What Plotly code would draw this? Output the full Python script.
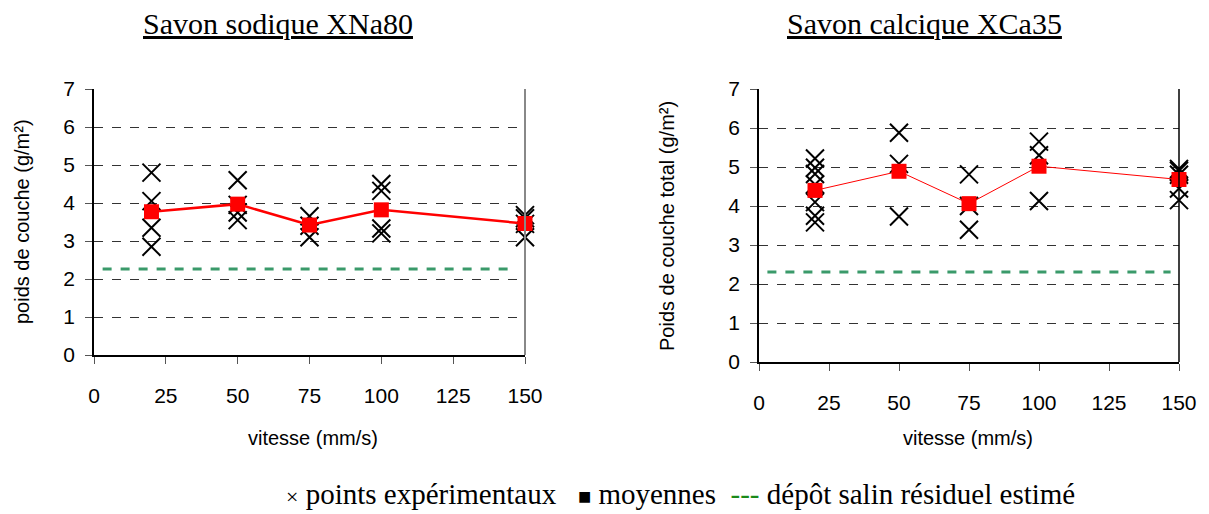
import plotly.graph_objects as go

# speeds (mm/s)
vitesse = [20, 50, 75, 100, 150]

# experimental points, one list per speed
na_points = [[4.8, 4.05, 3.35, 2.85], [4.6, 3.95, 3.75, 3.55], [3.65, 3.4, 3.1],
             [4.5, 4.32, 3.33, 3.2], [3.68, 3.6, 3.45, 3.1]]
ca_points = [[5.22, 4.98, 4.82, 4.55, 4.1, 3.75, 3.58], [5.88, 5.08, 3.73],
             [4.81, 4.0, 3.39], [5.65, 5.3, 4.13], [4.95, 4.9, 4.8, 4.45, 4.15]]

# means
na_moy = [3.77, 3.97, 3.42, 3.82, 3.46]
ca_moy = [4.40, 4.89, 4.06, 5.02, 4.68]

# estimated residual salt deposit
depot_x = [3, 147]
na_depot = [2.26, 2.26]
ca_depot = [2.31, 2.31]

x_ticks = [0, 25, 50, 75, 100, 125, 150]
y_ticks = [0, 1, 2, 3, 4, 5, 6, 7]

# the page body has an 8px margin, so the figure is slightly smaller
OFF = 8
W, H = 1209 - OFF, 514 - OFF
SANS = "Liberation Sans"
SERIF = "Liberation Serif"


def fx(px):
    return (px - OFF) / W


def fy(py):
    return 1 - (py - OFF) / H


def flat(points):
    xs, ys = [], []
    for v, pts in zip(vitesse, points):
        xs += [v] * len(pts)
        ys += pts
    return xs, ys


fig = go.Figure()

for k, (pts, moy, dep, lw) in enumerate([(na_points, na_moy, na_depot, 2.5),
                                          (ca_points, ca_moy, ca_depot, 1)]):
    xa = "x" if k == 0 else "x2"
    ya = "y" if k == 0 else "y2"
    xs, ys = flat(pts)
    fig.add_trace(go.Scatter(x=depot_x, y=dep, mode="lines", xaxis=xa, yaxis=ya,
                             line=dict(color="#3a9a6a", width=3, dash="dash"),
                             showlegend=False))
    fig.add_trace(go.Scatter(x=xs, y=ys, mode="markers", xaxis=xa, yaxis=ya,
                             marker=dict(symbol="x-thin", size=18,
                                         line=dict(color="black", width=2)),
                             cliponaxis=False, showlegend=False))
    fig.add_trace(go.Scatter(x=vitesse, y=moy, mode="lines+markers", xaxis=xa, yaxis=ya,
                             line=dict(color="red", width=lw),
                             marker=dict(symbol="square", size=15, color="red"),
                             cliponaxis=False, showlegend=False))

xcommon = dict(range=[0, 150], tickvals=x_ticks, ticks="outside", ticklen=7,
               tickcolor="#555", ticklabelstandoff=14,
               showline=True, linecolor="black", linewidth=1.5, showgrid=False,
               zeroline=False, automargin=False,
               tickfont=dict(family=SANS, size=21, color="black"))
ycommon = dict(range=[0, 7], tickvals=y_ticks, ticks="outside", ticklen=7,
               tickcolor="#555", ticklabelstandoff=6,
               showline=True, linecolor="black", linewidth=1.5, showgrid=True,
               gridcolor="#333", griddash="dash", gridwidth=1, zeroline=False,
               automargin=False,
               tickfont=dict(family=SANS, size=21, color="black"))

fig.update_layout(
    width=W, height=H, margin=dict(l=0, r=0, t=0, b=0),
    plot_bgcolor="white", paper_bgcolor="white",
    xaxis=dict(xcommon, domain=[fx(94), fx(525)], anchor="y"),
    yaxis=dict(ycommon, domain=[fy(355), fy(89)], anchor="x"),
    xaxis2=dict(xcommon, domain=[fx(759), fx(1179)], anchor="y2"),
    yaxis2=dict(ycommon, domain=[fy(362), fy(89)], anchor="x2"),
)

# right-hand frame lines
fig.add_shape(type="line", xref="x domain", yref="y domain", x0=1, x1=1, y0=0, y1=1,
              line=dict(color="#888", width=2))
fig.add_shape(type="line", xref="x2 domain", yref="y2 domain", x0=1, x1=1, y0=0, y1=1,
              line=dict(color="black", width=1.5))

# titles
for txt, cx in [("Savon sodique XNa80", 278), ("Savon calcique XCa35", 924)]:
    fig.add_annotation(text=txt, x=fx(cx), y=fy(23), xref="paper", yref="paper",
                       showarrow=False, xanchor="center", yanchor="middle",
                       font=dict(family=SERIF, size=30, color="black", lineposition="under"))

# axis titles
axis_font = dict(family=SANS, size=20, color="black")
for cx in [313, 968]:
    fig.add_annotation(text="vitesse (mm/s)", x=fx(cx), y=fy(438), xref="paper",
                       yref="paper", showarrow=False, xanchor="center", yanchor="middle",
                       font=axis_font)
for txt, cx, cy in [("poids de couche (g/m²)", 22, 222),
                    ("Poids de couche total (g/m²)", 667, 226)]:
    fig.add_annotation(text=txt, x=fx(cx), y=fy(cy), xref="paper", yref="paper",
                       showarrow=False, textangle=-90, xanchor="center", yanchor="middle",
                       font=axis_font)

fig.add_annotation(
    text="<span style='font-size:22px'>×</span> points expérimentaux &nbsp;&nbsp;"
         "<span style='font-size:22px'>■</span> moyennes &nbsp;"
         "<span style='color:#1a8a1a'>---</span> dépôt salin résiduel estimé",
    x=fx(680), y=fy(494), xref="paper", yref="paper", showarrow=False,
    xanchor="center", yanchor="middle",
    font=dict(family=SERIF, size=29, color="black"))

fig.write_html("out.html")
